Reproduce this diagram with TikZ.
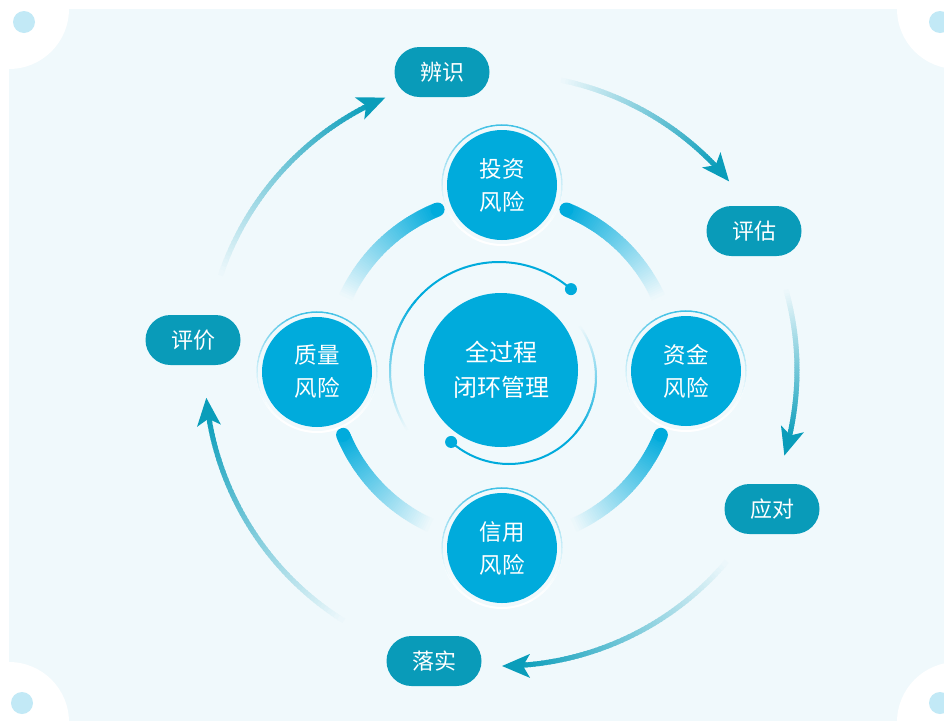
\documentclass[tikz,border=0pt]{standalone}
\usepackage{fontspec}
\setmainfont{Noto Sans CJK SC}
\usetikzlibrary{calc}
\definecolor{bg}{RGB}{240,249,252}
\definecolor{dotc}{RGB}{194,233,246}
\definecolor{mainblue}{RGB}{0,171,220}
\definecolor{pillteal}{RGB}{9,155,185}
\definecolor{arrowteal}{RGB}{10,157,186}
\newcommand{\gradarc}[6]{%
  \foreach \i in {0,...,59}{%
    \pgfmathsetmacro\ga{(#3)+((#4)-(#3))*\i/60}%
    \pgfmathsetmacro\gb{(#3)+((#4)-(#3))*(\i+1.5)/60}%
    \pgfmathsetmacro\gp{100*(1-\i/60)}%
    \draw[line width=#5, #6!\gp!bg] ($(#1)+(\ga:#2)$) arc[start angle=\ga, end angle=\gb, radius=#2];
  }%
}
\newcommand{\arrowarc}[2]{%
  \gradarc{C}{296pt}{(#2)+3}{#1}{5pt}{arrowteal}
  \fill[arrowteal, shift={($(C)+(#2:296pt)$)}, rotate=#2-90] (0,0) -- (-28,12) -- (-21,0) -- (-28,-12) -- cycle;
}
\tikzset{
  pill/.style={fill=pillteal, text=white, rounded corners=25pt, minimum width=95pt, minimum height=50pt, inner sep=0pt, font=\fontsize{22}{26}\selectfont},
  risk/.style={circle, fill=mainblue, text=white, minimum size=110pt, inner sep=0pt, align=center, font=\fontsize{22.5}{33}\selectfont},
  core/.style={circle, fill=mainblue, text=white, minimum size=154pt, inner sep=0pt, align=center, font=\fontsize{24}{35}\selectfont},
  cdot/.style={circle, fill=mainblue, minimum size=12pt, inner sep=0pt}
}
\begin{document}
\begin{tikzpicture}[x=1pt,y=1pt]
\useasboundingbox (0,0) rectangle (944,-721);
% background
\fill[white] (0,0) rectangle (944,-721);
\fill[bg] (9,-9) rectangle (944,-721);
\fill[white] (9,-9) circle[radius=60];
\fill[white] (957,-9) circle[radius=60];
\fill[white] (9,-722) circle[radius=60];
\fill[white] (957,-722) circle[radius=60];
\fill[dotc] (24,-22) circle[radius=11];
\fill[dotc] (940,-22) circle[radius=11];
\fill[dotc] (22,-703) circle[radius=11];
\fill[dotc] (940,-703) circle[radius=11];
% centres
\coordinate (C) at (501,-370);
\coordinate (K) at (502,-369);
\coordinate (U) at (499,-371);
\coordinate (L) at (509,-377);
% thick gradient arcs
\foreach \s/\e in {112/155, 68/25, 202.5/245, 337.5/295}{
  \gradarc{K}{172pt}{\s}{\e}{14pt}{mainblue}
  \fill[mainblue] ($(K)+(\s:172pt)$) circle[radius=7];
}
% ring arcs around the core
\draw[line width=2pt, mainblue] ($(U)+(48.7:109pt)$) arc[start angle=48.7, end angle=141, radius=109pt];
\gradarc{U}{109pt}{140}{212}{2pt}{mainblue}
\draw[line width=2pt, mainblue] ($(L)+(228.3:87pt)$) arc[start angle=228.3, end angle=321, radius=87pt];
\gradarc{L}{87pt}{320}{395}{2pt}{mainblue}
\node[cdot] (d1) at ($(U)+(48.7:109pt)$) {};
\node[cdot] (d2) at ($(L)+(228.3:87pt)$) {};
% core
\node[core] (core) at (C) {全过程\\闭环管理};
% risk circles with halos
\foreach \n/\x/\y in {r1/502/185, r2/686/371, r3/502/548, r4/317/372}{
  \draw[white, line width=2pt] (\x,-\y) circle[radius=60];
  \foreach \j in {0,...,71}{
    \pgfmathsetmacro\ha{\j*5}
    \pgfmathsetmacro\hp{75*((1+sin(\ha+2.5))/2)^2}
    \draw[line width=1.5pt, mainblue!\hp!white] ($(\x,-\y)+(\ha:60pt)$) arc[start angle=\ha, end angle=\ha+5.5, radius=60pt];
  }
}
\node[risk] (r1) at (502,-185) {投资\\风险};
\node[risk] (r2) at (686,-371) {资金\\风险};
\node[risk] (r3) at (502,-548) {信用\\风险};
\node[risk] (r4) at (317,-372) {质量\\风险};
% pills
\node[pill] (p1) at (442,-72) {辨识};
\node[pill] (p2) at (754,-231) {评估};
\node[pill] (p3) at (772,-509) {应对};
\node[pill] (p4) at (434,-661) {落实};
\node[pill] (p5) at (193,-340) {评价};
% cycle arrows
\arrowarc{78}{39.6}
\arrowarc{15.5}{-16.8}
\arrowarc{-40.7}{-89.8}
\arrowarc{237.5}{185.4}
\arrowarc{161}{113}
\end{tikzpicture}
\end{document}
